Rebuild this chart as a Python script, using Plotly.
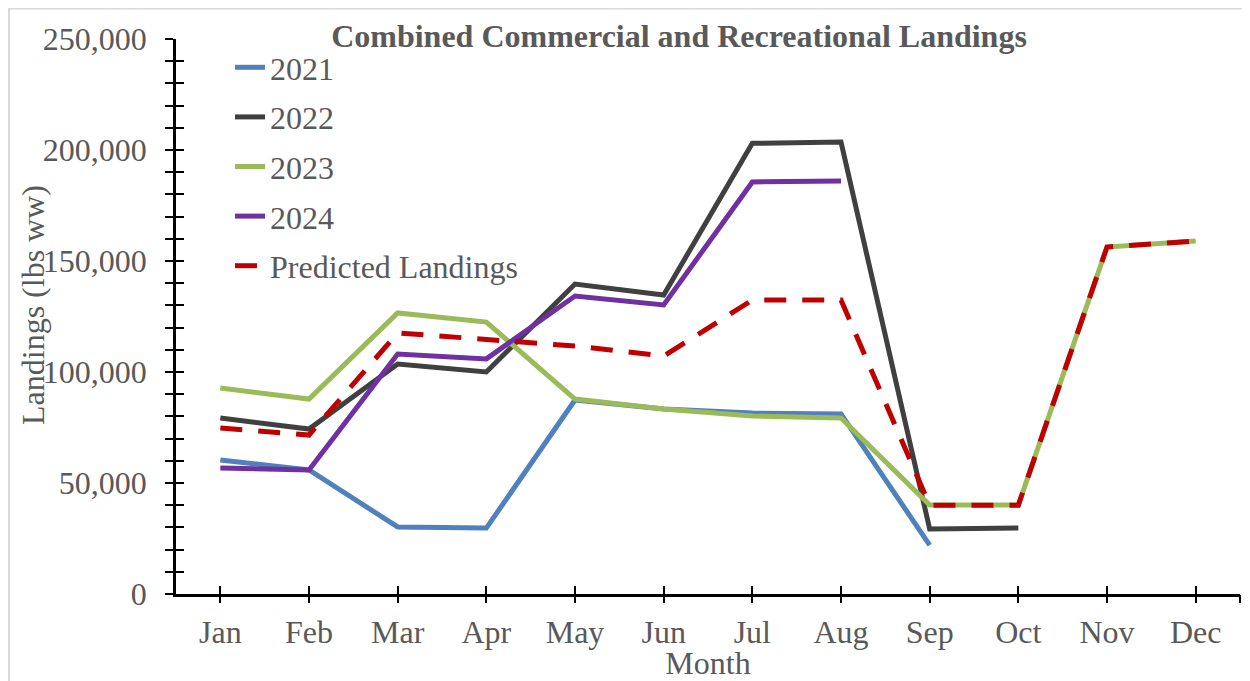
import plotly.graph_objects as go

months = ["Jan", "Feb", "Mar", "Apr", "May", "Jun", "Jul", "Aug", "Sep", "Oct", "Nov", "Dec"]

y2021 = [60400, 55900, 30200, 29700, 87400, 83300, 81500, 81100, 22000, None, None, None]
y2022 = [79300, 74300, 103600, 100000, 139600, 134700, 203000, 203600, 29300, 29700, None, None]
y2023 = [92800, 87800, 126600, 122500, 87800, 83300, 80200, 79300, 40100, 40100, 156300, 159000]
y2024 = [56800, 55900, 108100, 105900, 134200, 130200, 185600, 186000, None, None, None, None]
predicted = [74800, 71600, 117600, 114400, 111700, 107200, 132400, 132400, 40000, 40000, 156300, 159000]

series = [
    ("2021", y2021, "#4F81BD", "solid"),
    ("2022", y2022, "#404040", "solid"),
    ("2023", y2023, "#9BBB59", "solid"),
    ("2024", y2024, "#7030A0", "solid"),
    ("Predicted Landings", predicted, "#C00000", "22px,16px"),
]

FONT = "Liberation Serif, Times New Roman, serif"
GRAY = "#595959"
FS = 32

fig = go.Figure()
for i, (name, vals, color, dash) in enumerate(series):
    fig.add_trace(go.Scatter(
        x=months, y=vals, name=name, mode="lines",
        line=dict(color=color, width=5, dash=dash),
        legendgroup=f"g{i}", connectgaps=False,
    ))

# the page body adds an 8px offset, so the figure is sized to fit the window
OFF = 8
W, H = 1250 - OFF, 681 - OFF
ML, MT = 176 - OFF, 39 - OFF
MR = W - (1240 - OFF)
MB = H - (594 - OFF)
pw, ph = W - ML - MR, H - MT - MB

tick_common = dict(tickcolor="black", tickwidth=2, ticklen=8)

fig.update_layout(
    width=W, height=H,
    margin=dict(l=ML, r=MR, t=MT, b=MB, autoexpand=False),
    paper_bgcolor="white", plot_bgcolor="white",
    font=dict(family=FONT, size=FS, color=GRAY),
    title=dict(text="<b>Combined Commercial and Recreational Landings</b>",
               x=(679 - OFF) / W, xanchor="center", y=1 - (36 - OFF) / H, yanchor="middle",
               font=dict(family=FONT, size=32, color=GRAY)),
    showlegend=True,
    legend=dict(x=(230 - 176) / pw, y=1 - (40 - 39) / ph, xanchor="left", yanchor="top",
                bgcolor="rgba(0,0,0,0)", font=dict(family=FONT, size=FS, color=GRAY),
                tracegroupgap=5, traceorder="grouped"),
    xaxis=dict(type="category", categoryarray=months, range=[-0.5, 11.5], automargin=False,
               showline=True, linecolor="black", linewidth=2.5, ticks="",
               showgrid=False, zeroline=False, ticklabelstandoff=8,
               tickfont=dict(family=FONT, size=FS, color=GRAY),
               title=dict(text="Month", standoff=0, font=dict(family=FONT, size=FS, color=GRAY))),
    xaxis2=dict(overlaying="x", range=[-0.5, 11.5], side="bottom", showgrid=False, zeroline=False,
                tickmode="array", tickvals=list(range(12)) + [11.5], showticklabels=False,
                automargin=False, ticks="outside", **tick_common),
    xaxis3=dict(overlaying="x", range=[-0.5, 11.5], side="bottom", showgrid=False, zeroline=False,
                tickmode="array", tickvals=list(range(12)) + [11.5], showticklabels=False,
                automargin=False, ticks="inside", **tick_common),
    yaxis=dict(range=[0, 250000], dtick=50000, tickformat=",", showline=True, automargin=False,
               linecolor="black", linewidth=2.5, ticks="outside", **tick_common,
               minor=dict(dtick=10000, ticks="outside", ticklen=8, tickcolor="black", tickwidth=2,
                          showgrid=False),
               showgrid=False, zeroline=False, ticklabelstandoff=12,
               tickfont=dict(family=FONT, size=FS, color=GRAY)),
    yaxis2=dict(overlaying="y", range=[0, 250000], dtick=50000, side="left", automargin=False,
                showticklabels=False, showgrid=False, zeroline=False,
                ticks="inside", **tick_common,
                minor=dict(dtick=10000, ticks="inside", ticklen=8, tickcolor="black", tickwidth=2,
                           showgrid=False)),
    annotations=[dict(text="Landings (lbs ww)", textangle=-90, showarrow=False,
                      xref="paper", yref="paper",
                      x=-(176 - 33) / pw, y=1 - (305 - 39) / ph,
                      xanchor="center", yanchor="middle",
                      font=dict(family=FONT, size=FS, color=GRAY))],
    shapes=[dict(type="rect", xref="paper", yref="paper",
                 x0=-(ML - 1) / pw, x1=1 + (MR + 20) / pw,
                 y0=-(MB + 20) / ph, y1=1 + (MT - 0.5) / ph,
                 line=dict(color="#D9D9D9", width=2), fillcolor="rgba(0,0,0,0)", layer="below")],
)

# invisible helper traces so the overlay axes are rendered
fig.add_trace(go.Scatter(x=[-0.5, 11.5], y=[None, None], xaxis="x2", yaxis="y2",
                         showlegend=False, hoverinfo="skip", mode="lines"))
fig.add_trace(go.Scatter(x=[-0.5, 11.5], y=[None, None], xaxis="x3", yaxis="y2",
                         showlegend=False, hoverinfo="skip", mode="lines"))

fig.write_html("out.html")
